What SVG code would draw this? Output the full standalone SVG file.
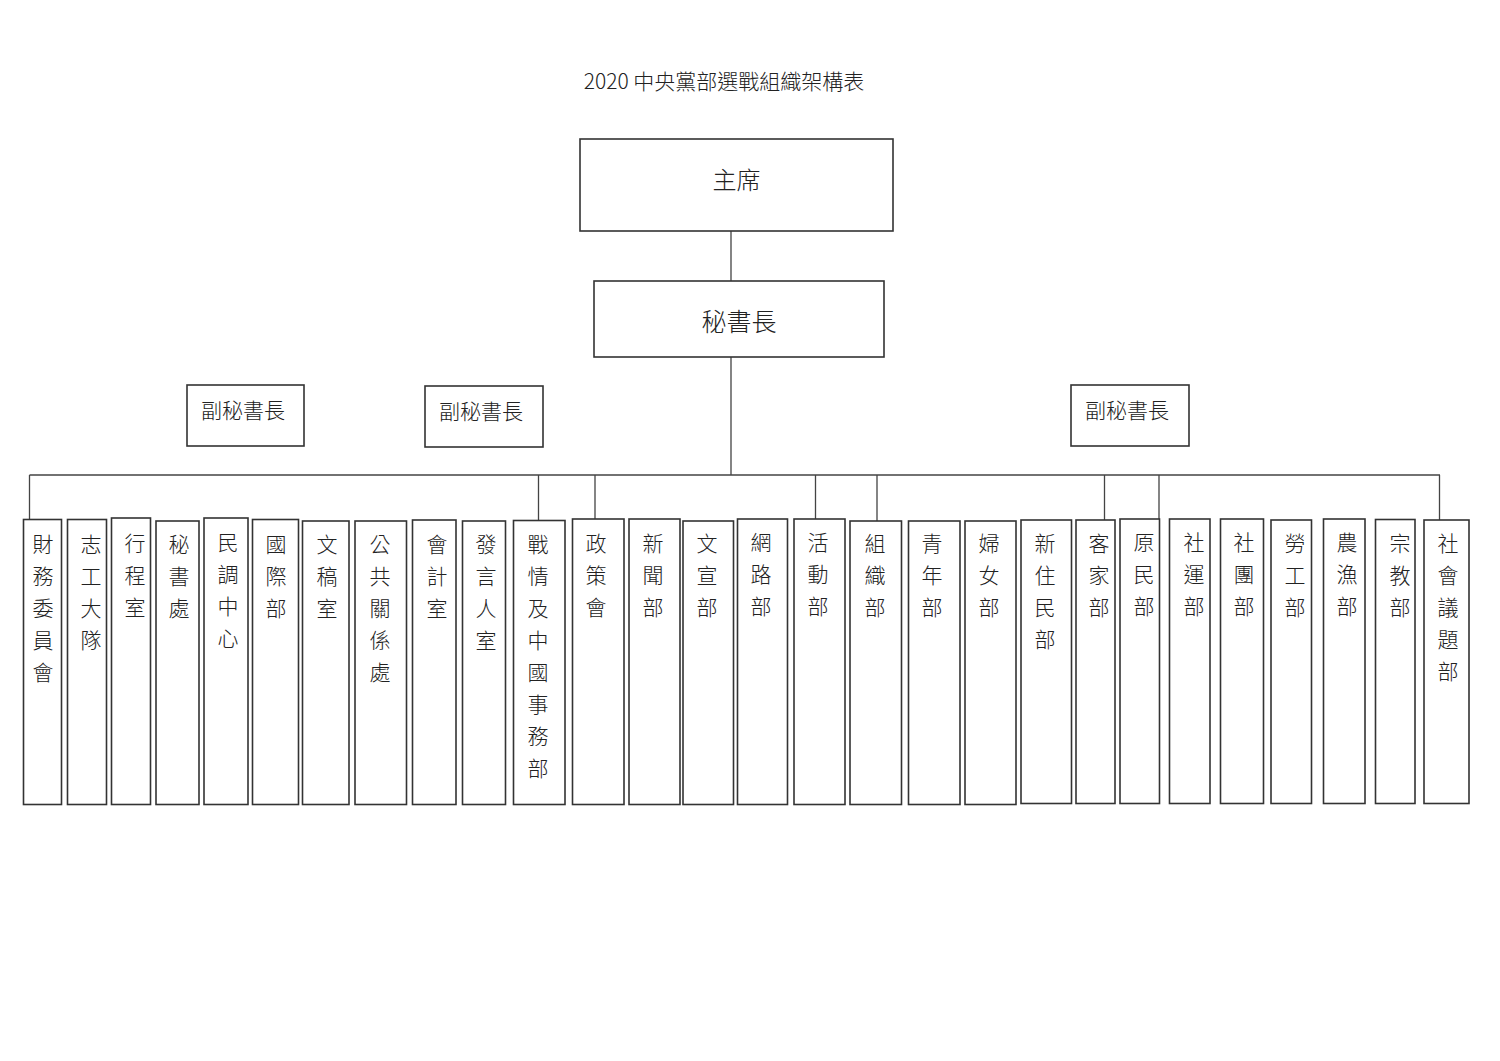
<svg xmlns="http://www.w3.org/2000/svg" width="1500" height="1061" viewBox="0 0 1500 1061">
<style>
.bx{fill:#fff;stroke:#333;stroke-width:1.6}
.ln{fill:none;stroke:#444;stroke-width:1.3}
.t{font-family:"Noto Sans CJK TC","Noto Sans CJK SC",sans-serif;font-weight:300;fill:#222;text-anchor:middle}
.v{font-size:21px}
</style>
<rect width="1500" height="1061" fill="#fff"/>
<text class="t" x="724" y="89" font-size="21">2020 中央黨部選戰組織架構表</text>
<g id="connectors" class="ln">
<path d="M731 231V281M731 357V475M29.5 475H1440M29.5 475V519.5M538.5 475V520.5M595 475V519M815.5 475V519M877 475V521M1104.5 475V520M1159 475V519M1439.5 475V520"/>
</g>
<g id="chair"><rect class="bx" x="580" y="139" width="313" height="92"/><text class="t" x="736.5" y="189" font-size="24">主席</text></g>
<g id="secgen"><rect class="bx" x="594" y="281" width="290" height="76"/><text class="t" x="739" y="330.5" font-size="25">秘書長</text></g>
<g id="deputy1"><rect class="bx" x="187" y="385" width="117" height="61"/><text class="t" x="243" y="418" font-size="21">副秘書長</text></g>
<g id="deputy2"><rect class="bx" x="425" y="386" width="118" height="61"/><text class="t" x="481" y="418.5" font-size="21">副秘書長</text></g>
<g id="deputy3"><rect class="bx" x="1071" y="385" width="118" height="61"/><text class="t" x="1127" y="418" font-size="21">副秘書長</text></g>
<g id="n1"><rect class="bx" x="23.5" y="519.5" width="38" height="285"/><text class="t v" y="551.5"><tspan x="43">財</tspan><tspan x="43" dy="32">務</tspan><tspan x="43" dy="32">委</tspan><tspan x="43" dy="32">員</tspan><tspan x="43" dy="32">會</tspan></text></g>
<g id="n2"><rect class="bx" x="67.5" y="519.5" width="39" height="285"/><text class="t v" y="551.5"><tspan x="91">志</tspan><tspan x="91" dy="32">工</tspan><tspan x="91" dy="32">大</tspan><tspan x="91" dy="32">隊</tspan></text></g>
<g id="n3"><rect class="bx" x="111.5" y="518" width="39" height="286.5"/><text class="t v" y="550.5"><tspan x="135">行</tspan><tspan x="135" dy="32">程</tspan><tspan x="135" dy="32">室</tspan></text></g>
<g id="n4"><rect class="bx" x="156" y="521" width="43" height="283.5"/><text class="t v" y="551.5"><tspan x="179">秘</tspan><tspan x="179" dy="32">書</tspan><tspan x="179" dy="32">處</tspan></text></g>
<g id="n5"><rect class="bx" x="204" y="518" width="44" height="286.5"/><text class="t v" y="550"><tspan x="228">民</tspan><tspan x="228" dy="32">調</tspan><tspan x="228" dy="32">中</tspan><tspan x="228" dy="32">心</tspan></text></g>
<g id="n6"><rect class="bx" x="252.5" y="519.5" width="46" height="285"/><text class="t v" y="551.5"><tspan x="276">國</tspan><tspan x="276" dy="32">際</tspan><tspan x="276" dy="32">部</tspan></text></g>
<g id="n7"><rect class="bx" x="302.5" y="521" width="46.5" height="283.5"/><text class="t v" y="552"><tspan x="327">文</tspan><tspan x="327" dy="32">稿</tspan><tspan x="327" dy="32">室</tspan></text></g>
<g id="n8"><rect class="bx" x="355" y="521" width="51.5" height="283.5"/><text class="t v" y="552"><tspan x="380">公</tspan><tspan x="380" dy="32">共</tspan><tspan x="380" dy="32">關</tspan><tspan x="380" dy="32">係</tspan><tspan x="380" dy="32">處</tspan></text></g>
<g id="n9"><rect class="bx" x="412.5" y="520" width="43.5" height="284.5"/><text class="t v" y="552"><tspan x="437">會</tspan><tspan x="437" dy="32">計</tspan><tspan x="437" dy="32">室</tspan></text></g>
<g id="n10"><rect class="bx" x="462.5" y="521" width="43" height="283.5"/><text class="t v" y="552"><tspan x="486">發</tspan><tspan x="486" dy="32">言</tspan><tspan x="486" dy="32">人</tspan><tspan x="486" dy="32">室</tspan></text></g>
<g id="n11"><rect class="bx" x="513.5" y="520.5" width="51.5" height="284"/><text class="t v" y="551.5"><tspan x="538">戰</tspan><tspan x="538" dy="32.1">情</tspan><tspan x="538" dy="32.1">及</tspan><tspan x="538" dy="32.1">中</tspan><tspan x="538" dy="32.1">國</tspan><tspan x="538" dy="32.1">事</tspan><tspan x="538" dy="32.1">務</tspan><tspan x="538" dy="32.1">部</tspan></text></g>
<g id="n12"><rect class="bx" x="572.5" y="519" width="51.5" height="285.5"/><text class="t v" y="551"><tspan x="596">政</tspan><tspan x="596" dy="32">策</tspan><tspan x="596" dy="32">會</tspan></text></g>
<g id="n13"><rect class="bx" x="629" y="519" width="51" height="285.5"/><text class="t v" y="551"><tspan x="653">新</tspan><tspan x="653" dy="32">聞</tspan><tspan x="653" dy="32">部</tspan></text></g>
<g id="n14"><rect class="bx" x="683" y="521" width="50.5" height="283.5"/><text class="t v" y="551"><tspan x="707">文</tspan><tspan x="707" dy="32">宣</tspan><tspan x="707" dy="32">部</tspan></text></g>
<g id="n15"><rect class="bx" x="737.5" y="519" width="50" height="285.5"/><text class="t v" y="550"><tspan x="761">網</tspan><tspan x="761" dy="32">路</tspan><tspan x="761" dy="32">部</tspan></text></g>
<g id="n16"><rect class="bx" x="794" y="519" width="51" height="285.5"/><text class="t v" y="550"><tspan x="818">活</tspan><tspan x="818" dy="32">動</tspan><tspan x="818" dy="32">部</tspan></text></g>
<g id="n17"><rect class="bx" x="850" y="521" width="51.5" height="283.5"/><text class="t v" y="551"><tspan x="875">組</tspan><tspan x="875" dy="32">織</tspan><tspan x="875" dy="32">部</tspan></text></g>
<g id="n18"><rect class="bx" x="908.5" y="521" width="51.5" height="283.5"/><text class="t v" y="551"><tspan x="932">青</tspan><tspan x="932" dy="32">年</tspan><tspan x="932" dy="32">部</tspan></text></g>
<g id="n19"><rect class="bx" x="965" y="521" width="51" height="283.5"/><text class="t v" y="551"><tspan x="989">婦</tspan><tspan x="989" dy="32">女</tspan><tspan x="989" dy="32">部</tspan></text></g>
<g id="n20"><rect class="bx" x="1021" y="520" width="50.5" height="283.5"/><text class="t v" y="551"><tspan x="1045">新</tspan><tspan x="1045" dy="32">住</tspan><tspan x="1045" dy="32">民</tspan><tspan x="1045" dy="32">部</tspan></text></g>
<g id="n21"><rect class="bx" x="1076" y="520" width="39" height="283.5"/><text class="t v" y="551"><tspan x="1099">客</tspan><tspan x="1099" dy="32">家</tspan><tspan x="1099" dy="32">部</tspan></text></g>
<g id="n22"><rect class="bx" x="1120" y="519" width="39.5" height="284.5"/><text class="t v" y="550"><tspan x="1144">原</tspan><tspan x="1144" dy="32">民</tspan><tspan x="1144" dy="32">部</tspan></text></g>
<g id="n23"><rect class="bx" x="1169.5" y="519" width="40.5" height="284.5"/><text class="t v" y="550"><tspan x="1194">社</tspan><tspan x="1194" dy="32">運</tspan><tspan x="1194" dy="32">部</tspan></text></g>
<g id="n24"><rect class="bx" x="1220.5" y="519" width="43" height="284.5"/><text class="t v" y="550"><tspan x="1244">社</tspan><tspan x="1244" dy="32">團</tspan><tspan x="1244" dy="32">部</tspan></text></g>
<g id="n25"><rect class="bx" x="1271" y="520" width="40.5" height="283.5"/><text class="t v" y="551"><tspan x="1295">勞</tspan><tspan x="1295" dy="32">工</tspan><tspan x="1295" dy="32">部</tspan></text></g>
<g id="n26"><rect class="bx" x="1323.5" y="519" width="41.5" height="284.5"/><text class="t v" y="550"><tspan x="1347">農</tspan><tspan x="1347" dy="32">漁</tspan><tspan x="1347" dy="32">部</tspan></text></g>
<g id="n27"><rect class="bx" x="1375.5" y="519.5" width="39.5" height="284"/><text class="t v" y="551"><tspan x="1400">宗</tspan><tspan x="1400" dy="32">教</tspan><tspan x="1400" dy="32">部</tspan></text></g>
<g id="n28"><rect class="bx" x="1424" y="520" width="45" height="283.5"/><text class="t v" y="551"><tspan x="1448">社</tspan><tspan x="1448" dy="32">會</tspan><tspan x="1448" dy="32">議</tspan><tspan x="1448" dy="32">題</tspan><tspan x="1448" dy="32">部</tspan></text></g>
</svg>
